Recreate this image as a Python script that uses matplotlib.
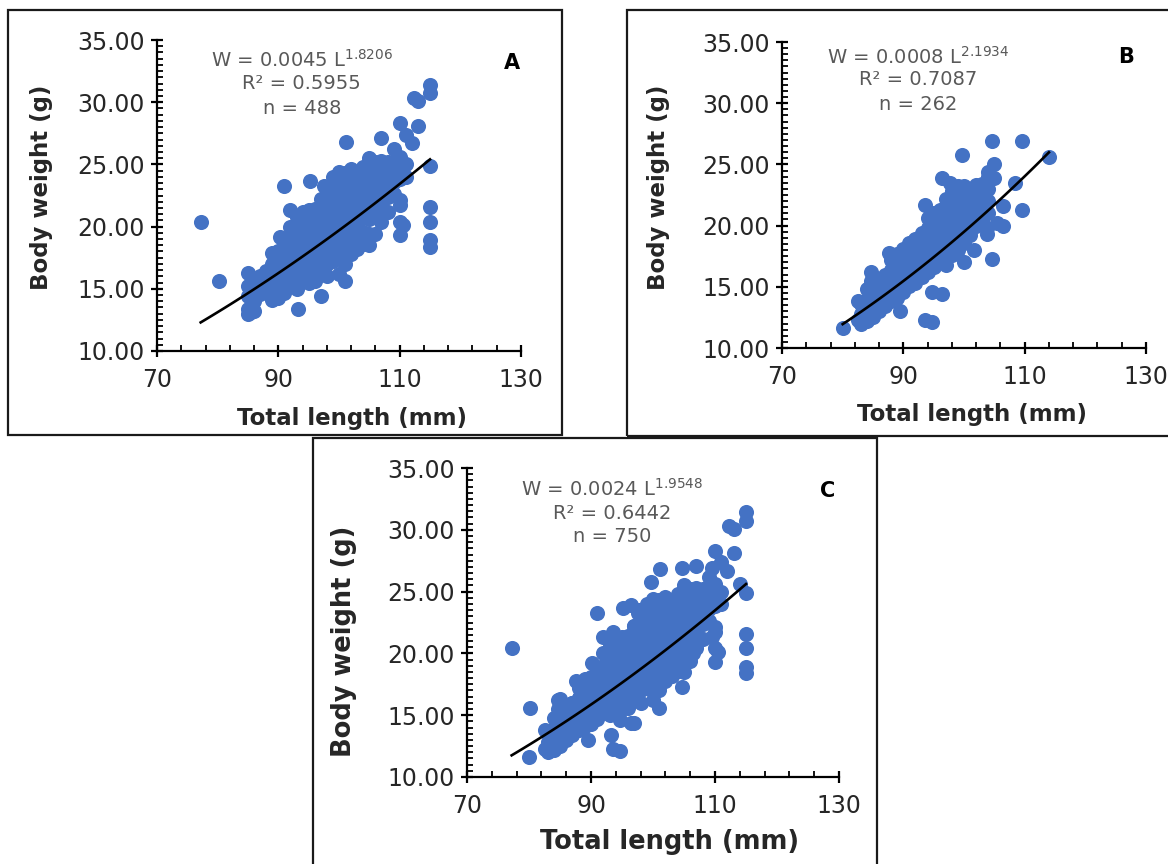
import matplotlib
matplotlib.use('Agg')
import matplotlib.pyplot as plt
from matplotlib.patches import Rectangle
from matplotlib.ticker import MultipleLocator, FormatStrFormatter
import numpy as np

plt.rcParams['font.family'] = ['DejaVu Sans']

W, H = 1168, 864

# 样本 A (n = 488): (total length mm, body weight g)
pts_a = [
    (77.2, 20.4), (80.2, 15.6),
    (85, 13.0), (85, 13.4), (85, 14.4), (85, 15.2), (85, 16.3), (85.5, 13.1), (85.5, 15.0),
    (86, 13.2), (86, 14.0), (86, 15.6),
    (87, 14.6), (87, 15.4), (87, 16.0),
    (88, 14.8), (88, 15.6), (88, 16.4),
    (89, 14.1), (89, 15.0), (89, 16.0), (89, 17.0), (89, 17.9),
    (90, 14.3), (90, 15.2), (90, 16.2), (90, 17.2), (90, 18.0), (90.2, 19.2),
    (91, 14.7), (91, 15.5), (91, 16.4), (91, 17.4), (91, 18.3), (91, 23.3),
    (92, 15.2), (92, 16.1), (92, 17.0), (92, 17.9), (92, 19.0), (92, 20.0), (92, 21.3),
    (93, 15.0), (93, 15.8), (93, 16.8), (93, 17.7), (93, 18.6), (93, 19.6), (93, 20.8), (93.2, 13.4),
    (94, 15.6), (94, 16.5), (94, 17.4), (94, 18.3), (94, 19.3), (94, 20.3), (94, 21.2),
    (95, 15.5), (95, 16.4), (95, 17.3), (95, 18.2), (95, 19.2), (95, 20.2), (95, 21.3), (95.2, 23.7),
    (96, 15.6), (96, 16.6), (96, 17.6), (96, 18.6), (96, 19.6), (96, 20.6), (96, 21.4),
    (97, 14.4), (97, 16.2), (97, 17.2), (97, 18.2), (97, 19.2), (97, 20.2), (97, 21.2), (97, 22.2), (97.5, 23.3),
    (98, 16.0), (98, 17.0), (98, 18.0), (98, 19.0), (98, 20.0), (98, 21.0), (98, 22.0), (98, 23.0),
    (99, 17.2), (99, 18.2), (99, 19.2), (99, 20.2), (99, 21.2), (99, 22.2), (99, 23.2), (99, 24.0),
    (100, 16.2), (100, 17.5), (100, 18.6), (100, 19.6), (100, 20.6), (100, 21.6), (100, 22.6), (100, 23.6), (100, 24.4),
    (101, 15.6), (101, 17.0), (101, 18.2), (101, 19.5), (101, 20.6), (101, 21.6), (101, 22.6), (101, 23.6), (101, 24.3), (101.2, 26.8),
    (102, 17.8), (102, 18.8), (102, 19.8), (102, 20.8), (102, 21.8), (102, 22.8), (102, 23.8), (102, 24.6),
    (103, 18.2), (103, 19.3), (103, 20.3), (103, 21.3), (103, 22.3), (103, 23.3), (103, 24.3),
    (104, 18.6), (104, 19.6), (104, 20.8), (104, 21.8), (104, 22.8), (104, 23.8), (104, 24.8),
    (105, 18.5), (105, 19.4), (105, 20.6), (105, 21.6), (105, 22.6), (105, 23.6), (105, 24.6), (105, 25.5),
    (106, 19.4), (106, 21.2), (106, 22.2), (106, 23.2), (106, 24.2), (106, 25.2),
    (107, 20.4), (107, 21.5), (107, 22.5), (107, 23.5), (107, 24.5), (107, 25.3), (107, 27.1),
    (108, 21.2), (108, 22.4), (108, 23.4), (108, 24.4), (108, 25.2),
    (109, 22.6), (109, 23.6), (109, 24.5), (109, 25.2), (109, 26.2),
    (110, 19.3), (110, 20.4), (110, 21.7), (110, 22.1), (110, 23.8), (110, 24.8), (110, 25.6), (110, 28.3), (110.5, 20.1),
    (111, 24.0), (111, 25.0), (111, 27.4),
    (112, 26.7), (112.3, 30.3), (113, 30.1), (113, 28.1),
    (115, 18.4), (115, 18.9), (115, 20.4), (115, 21.6), (115, 24.9), (115, 30.7), (115, 31.4),
]

# 样本 B (n = 262)
pts_b = [
    (80, 11.6),
    (82.5, 12.3), (82.5, 13.8),
    (83, 12.0), (83, 12.8), (83, 13.6),
    (84, 12.2), (84, 13.0), (84, 13.9), (84, 14.8), (84.6, 15.5), (84.6, 16.2),
    (85, 12.5), (85, 13.4), (85, 14.3), (85, 15.0),
    (86, 13.0), (86, 13.9), (86, 14.8), (86, 15.6),
    (87, 13.4), (87, 14.3), (87, 15.2), (87, 16.0), (87.6, 17.8),
    (88, 13.8), (88, 14.7), (88, 15.6), (88, 16.4), (88, 17.2),
    (89, 14.1), (89, 15.0), (89, 15.9), (89, 16.8), (89, 17.7), (89.5, 13.0),
    (90, 14.6), (90, 15.5), (90, 16.4), (90, 17.3), (90, 18.1),
    (91, 15.1), (91, 16.0), (91, 16.9), (91, 17.8), (91, 18.6),
    (92, 15.3), (92, 16.2), (92, 17.1), (92, 18.0), (92, 18.9),
    (93, 15.8), (93, 16.7), (93, 17.6), (93, 18.5), (93, 19.4), (93.6, 21.7), (93.6, 12.3),
    (94, 16.2), (94, 17.1), (94, 18.0), (94, 18.9), (94, 19.8), (94, 20.6), (94.7, 14.6), (94.7, 12.1),
    (95, 16.6), (95, 17.5), (95, 18.4), (95, 19.3), (95, 20.2), (95, 21.0),
    (96, 17.0), (96, 17.9), (96, 18.8), (96, 19.7), (96, 20.6), (96, 21.3), (96.4, 14.4), (96.4, 23.9),
    (97, 16.8), (97, 17.8), (97, 18.7), (97, 19.6), (97, 20.5), (97, 21.4), (97, 22.2), (97.7, 23.5),
    (98, 17.6), (98, 18.5), (98, 19.4), (98, 20.3), (98, 21.2), (98, 22.1), (98, 22.8),
    (99, 18.0), (99, 18.9), (99, 19.8), (99, 20.7), (99, 21.6), (99, 22.5), (99, 23.2), (99.6, 25.8),
    (100, 17.0), (100, 18.6), (100, 19.6), (100, 20.6), (100, 21.6), (100, 22.6), (100, 23.2),
    (101, 19.2), (101, 20.2), (101, 21.2), (101, 22.2), (101, 23.0), (101.6, 18.0),
    (102, 20.0), (102, 21.0), (102, 22.0), (102, 22.8), (102, 23.3),
    (103, 20.4), (103, 21.4), (103, 22.4), (103, 23.4),
    (103.8, 19.3), (103.8, 19.8),
    (104, 21.0), (104, 22.0), (104, 23.0), (104, 24.0), (104, 24.4),
    (104.6, 26.9), (104.6, 17.3), (104.9, 25.0), (104.9, 23.9),
    (105.5, 20.2), (106.5, 21.6), (106.5, 20.0),
    (108.4, 23.5), (109.5, 26.9), (109.5, 21.3), (114, 25.6),
]

# 样本 C = A + B (n = 750)
pts_c = pts_a + pts_b

# W = a L^b 拟合参数
coef_a = [0.0045, 0.0008, 0.0024]
expo_b = [1.8206, 2.1934, 1.9548]
r2 = ['0.5955', '0.7087', '0.6442']
n_obs = [488, 262, 750]
letters = ['A', 'B', 'C']

fig = plt.figure(figsize=(W / 100, H / 100), dpi=100)


def px_rect(x0, y0, x1, y1):
    """像素坐标 -> figure 坐标"""
    return [x0 / W, 1 - y1 / H, (x1 - x0) / W, (y1 - y0) / H]


# 外框
for x0, y0, x1, y1 in [(8, 10, 562, 435), (627, 10, 1180, 436), (313, 438, 877, 880)]:
    fig.add_artist(Rectangle((x0 / W, 1 - y1 / H), (x1 - x0) / W, (y1 - y0) / H,
                             transform=fig.transFigure, fill=False,
                             edgecolor='#1a1a1a', linewidth=1.6, clip_on=False))

panels = [
    dict(pts=pts_a, box=(157, 40, 521, 351), tx=0.398, ty=[0.936, 0.859, 0.781],
         let=(0.975, 0.926), xl=(352, 418), yl=(42, 187), lfs=16.5),
    dict(pts=pts_b, box=(782, 42, 1146, 348), tx=0.374, ty=[0.951, 0.876, 0.797],
         let=(0.945, 0.951), xl=(972, 414), yl=(659, 187), lfs=16.5),
    dict(pts=pts_c, box=(467, 468, 839, 777), tx=0.39, ty=[0.932, 0.854, 0.777],
         let=(0.970, 0.926), xl=(670, 842), yl=(344, 641), lfs=18.5),
]

for i, p in enumerate(panels):
    ax = fig.add_axes(px_rect(*p['box']))
    xs = np.array([q[0] for q in p['pts']])
    ys = np.array([q[1] for q in p['pts']])
    ax.scatter(xs, ys, s=118, color='#4472C4', linewidths=0, zorder=2, clip_on=False)

    # 幂函数趋势线
    lx = np.linspace(xs.min(), xs.max(), 100)
    ax.plot(lx, coef_a[i] * lx ** expo_b[i], color='black', linewidth=1.9, zorder=3)

    ax.set_xlim(70, 130)
    ax.set_ylim(10, 35)
    ax.xaxis.set_major_locator(MultipleLocator(20, offset=10))
    ax.xaxis.set_minor_locator(MultipleLocator(4, offset=2))
    ax.yaxis.set_major_locator(MultipleLocator(5))
    ax.yaxis.set_minor_locator(MultipleLocator(0.5))
    ax.yaxis.set_major_formatter(FormatStrFormatter('%.2f'))
    for s in ['top', 'right']:
        ax.spines[s].set_visible(False)
    for s in ['left', 'bottom']:
        ax.spines[s].set_linewidth(1.6)
    ax.tick_params(which='major', direction='inout', length=8, width=1.6,
                   labelsize=17, labelcolor='#262626')
    ax.tick_params(axis='x', which='major', pad=8)
    ax.tick_params(axis='y', which='major', pad=5)
    ax.tick_params(which='minor', direction='in', length=4, width=1.3)
    ax.patch.set_alpha(0)

    txt = ['W = %.4f L$^{\\mathregular{%.4f}}$' % (coef_a[i], expo_b[i]),
           'R\u00b2 = ' + r2[i], 'n = %d' % n_obs[i]]
    for t, yy in zip(txt, p['ty']):
        ax.text(p['tx'], yy, t, transform=ax.transAxes, ha='center', va='center',
                fontsize=14, color='#595959')
    ax.text(p['let'][0], p['let'][1], letters[i], transform=ax.transAxes,
            ha='center', va='center', fontsize=15, fontweight='bold')

    fig.text(p['xl'][0] / W, 1 - p['xl'][1] / H, 'Total length (mm)', ha='center',
             va='center', fontsize=p['lfs'], fontweight='bold', color='#262626')
    fig.text(p['yl'][0] / W, 1 - p['yl'][1] / H, 'Body weight (g)', ha='center',
             va='center', rotation=90, fontsize=p['lfs'], fontweight='bold', color='#262626')

plt.savefig('out.png', dpi=100)
plt.close()
